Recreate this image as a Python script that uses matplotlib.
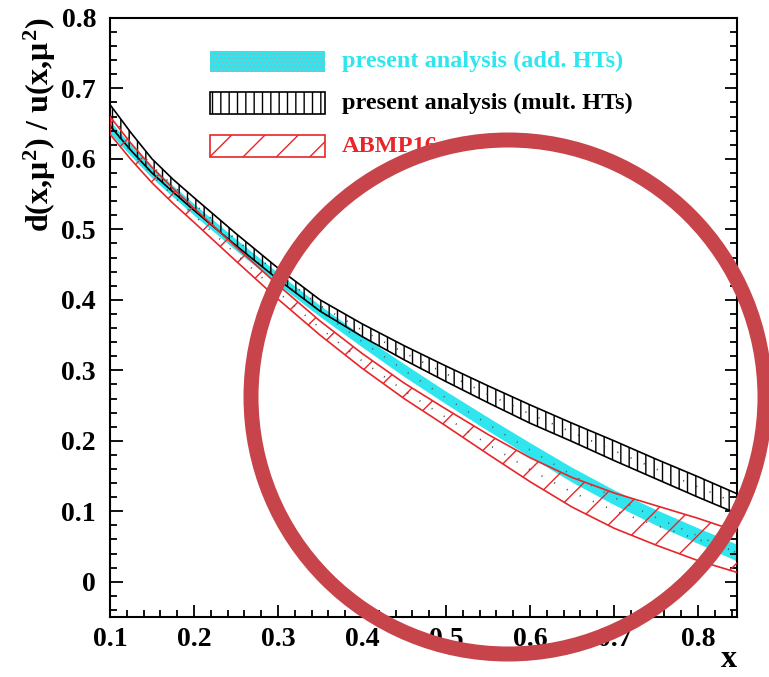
import numpy as np
import matplotlib
matplotlib.use("Agg")
import matplotlib.pyplot as plt
from matplotlib.patches import Rectangle, Circle
from matplotlib.transforms import IdentityTransform

plt.rcParams['font.family'] = ['Liberation Serif', 'DejaVu Serif']
plt.rcParams['font.weight'] = 'bold'
plt.rcParams['axes.labelweight'] = 'bold'
plt.rcParams['mathtext.fontset'] = 'custom'
plt.rcParams['mathtext.rm'] = 'Liberation Serif:bold'
plt.rcParams['mathtext.bf'] = 'Liberation Serif:bold'
plt.rcParams['mathtext.it'] = 'Liberation Serif:bold'
plt.rcParams['hatch.linewidth'] = 1.0

# values (d/u ratio bands)
x = [0.10, 0.125, 0.15, 0.175, 0.20, 0.25, 0.30, 0.35, 0.40, 0.45, 0.50, 0.55, 0.60, 0.65, 0.70, 0.75, 0.80, 0.85]

mult_lo = [0.647, 0.612, 0.580, 0.553, 0.527, 0.477, 0.429, 0.384, 0.348, 0.315, 0.284, 0.254, 0.225, 0.199, 0.172, 0.146, 0.120, 0.095]
mult_hi = [0.677, 0.637, 0.600, 0.571, 0.545, 0.494, 0.445, 0.400, 0.366, 0.335, 0.306, 0.278, 0.251, 0.225, 0.200, 0.174, 0.149, 0.123]

add_lo = [0.636, 0.604, 0.573, 0.546, 0.520, 0.470, 0.422, 0.376, 0.333, 0.291, 0.252, 0.214, 0.177, 0.141, 0.109, 0.080, 0.054, 0.027]
add_hi = [0.654, 0.620, 0.589, 0.562, 0.536, 0.486, 0.438, 0.392, 0.349, 0.309, 0.270, 0.233, 0.197, 0.162, 0.130, 0.102, 0.076, 0.051]

abmp_lo = [0.635, 0.599, 0.566, 0.537, 0.510, 0.455, 0.401, 0.350, 0.303, 0.260, 0.221, 0.181, 0.142, 0.106, 0.076, 0.052, 0.030, 0.012]
abmp_hi = [0.660, 0.622, 0.588, 0.558, 0.530, 0.475, 0.421, 0.370, 0.324, 0.282, 0.245, 0.209, 0.176, 0.148, 0.126, 0.108, 0.090, 0.070]

labels = ['present analysis (add. HTs)', 'present analysis (mult. HTs)', 'ABMP16']

cyan = '#30e6ee'
red = '#e8262a'

fig = plt.figure(figsize=(7.69, 6.77), dpi=100)
ax = fig.add_axes([0.143, 0.0886, 0.815, 0.885])

xs = np.array(x)
# add. HTs: solid cyan
ax.fill_between(xs, add_lo, add_hi, facecolor=cyan, edgecolor='none', lw=0, zorder=1)
ax.plot(xs, (np.array(add_lo) + np.array(add_hi)) / 2, ls=(0, (0.6, 8)), color='#555555', lw=1.2, zorder=1.5)
# mult. HTs: black vertical hatch
ax.fill_between(xs, mult_lo, mult_hi, facecolor='none', edgecolor='black', hatch='||', lw=1.2, zorder=2)
ax.plot(xs, (np.array(mult_lo) + np.array(mult_hi)) / 2, ls=(0, (0.6, 8)), color='#333333', lw=1.2, zorder=2)
# ABMP16: red diagonal hatch
ax.fill_between(xs, abmp_lo, abmp_hi, facecolor='none', edgecolor=red, hatch='/', lw=1.2, zorder=3)
ax.plot(xs, (np.array(abmp_lo) + np.array(abmp_hi)) / 2, ls=(0, (0.6, 8)), color='#444444', lw=1.2, zorder=3)

ax.set_xlim(0.1, 0.846)
ax.set_ylim(-0.05, 0.8)
ax.set_xticks(np.arange(0.1, 0.81, 0.1))
ax.set_xticklabels(['0.1', '0.2', '0.3', '0.4', '0.5', '0.6', '0.7', '0.8'])
ax.set_yticks(np.arange(0, 0.81, 0.1))
ax.set_yticklabels(['0', '0.1', '0.2', '0.3', '0.4', '0.5', '0.6', '0.7', '0.8'])
ax.set_xticks(np.arange(0.12, 0.846, 0.02), minor=True)
ax.set_yticks(np.arange(-0.04, 0.8, 0.02), minor=True)
ax.tick_params(which='both', direction='in', right=True, top=False, width=1.3, labelsize=20)
ax.tick_params(which='major', length=9)
ax.tick_params(which='minor', length=5)
ax.tick_params(axis='y', pad=10)
ax.tick_params(axis='x', pad=7)
for s in ax.spines.values():
    s.set_linewidth(1.5)

ax.set_ylabel(r'd(x,$\mu^2$) / u(x,$\mu^2$)', fontsize=23, loc='top')
ax.yaxis.set_label_coords(-0.083, 1.0)
ax.set_xlabel('x', fontsize=23, loc='right')
ax.xaxis.label.set_verticalalignment('baseline')
ax.xaxis.set_label_coords(1.0, -0.084)

# legend boxes
bx, bw, bh = 0.159, 0.184, 0.036
ax.add_patch(Rectangle((bx, 0.909), bw, bh, transform=ax.transAxes, facecolor=cyan, edgecolor='none'))
ax.add_patch(Rectangle((bx, 0.909), bw, bh, transform=ax.transAxes, facecolor='none', edgecolor='#8fb8c0',
                       hatch='....', lw=0))
ax.add_patch(Rectangle((bx, 0.840), bw, bh, transform=ax.transAxes, facecolor='none', edgecolor='black', hatch='||', lw=1.2))
ax.add_patch(Rectangle((bx, 0.768), bw, bh, transform=ax.transAxes, facecolor='none', edgecolor=red, hatch='/', lw=1.2))
for yy, txt, col in zip([0.927, 0.858, 0.786], labels, [cyan, 'black', red]):
    ax.text(0.370, yy, txt, transform=ax.transAxes, color=col, fontsize=17.5, va='center', ha='left')

# red ring overlay
ring = Circle((508, 677 - 397), 257, transform=IdentityTransform(), facecolor='none',
              edgecolor='#c8444b', lw=10.8, zorder=10)
fig.add_artist(ring)

fig.savefig('out.png', dpi=100)
